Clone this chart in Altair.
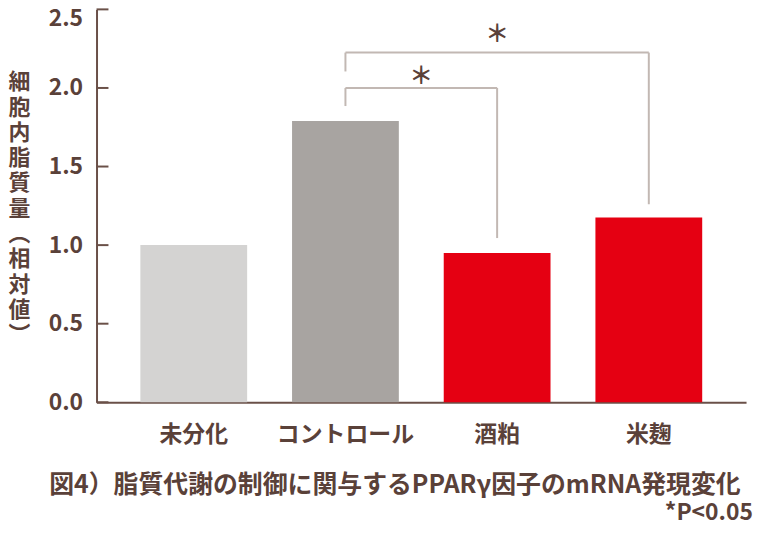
import altair as alt
import pandas as pd

# ---- data ----
categories = ["未分化", "コントロール", "酒粕", "米麹"]
values = [1.0, 1.79, 0.95, 1.175]
bar_colors = ["#d4d3d2", "#a8a4a1", "#e50012", "#e50012"]

y_ticks = [0.0, 0.5, 1.0, 1.5, 2.0, 2.5]

bracket_left = ["コントロール", "コントロール"]
bracket_right = ["酒粕", "米麹"]
bracket_top = [2.0, 2.225]
bracket_left_low = [1.885, 2.105]
bracket_right_low = [1.045, 1.26]
star_y = [2.07, 2.335]
star_at = ["コントロール", "酒粕"]
star_shift = [0.5, 0.0]  # in steps between bands

y_title = ["細", "胞", "内", "脂", "質", "量", "︵", "相", "対", "値", "︶"]
caption = "図4）脂質代謝の制御に関与するPPARγ因子のmRNA発現変化"
note = "*P<0.05"

# ---- styling ----
FONT = "Noto Sans CJK JP"
TXT = "#5a4139"
AXIS = "#6a5048"
BRK = "#c2b8b3"
W, H = 653, 395
P_IN, P_OUT = 0.296, 0.289
step = W / (len(categories) - P_IN + 2 * P_OUT)

xscale = alt.Scale(domain=categories, paddingInner=P_IN, paddingOuter=P_OUT)
yscale = alt.Scale(domain=[0, 2.5], nice=False, zero=True)

bars_df = pd.DataFrame({"cat": categories, "value": values})

bars = alt.Chart(bars_df).mark_bar().encode(
    x=alt.X("cat:N", scale=xscale, sort=categories,
            axis=alt.Axis(title=None, ticks=False, labelAngle=0, labelPadding=21,
                          labelFontSize=23, labelFontWeight="bold", labelColor=TXT,
                          labelFont=FONT, domainColor=AXIS, domainWidth=2)),
    y=alt.Y("value:Q", scale=yscale,
            axis=alt.Axis(values=y_ticks, format=".1f", ticks=False, grid=False,
                          labelFontSize=23, labelFontWeight="bold", labelColor=TXT,
                          labelFont=FONT, labelPadding=14,
                          labelOffset=alt.ExprRef("datum.value == 2.5 ? 9 : 0"),
                          domainColor=AXIS, domainWidth=2,
                          title=y_title, titleAngle=0, titleAlign="center",
                          titleBaseline="top", titleX=-78, titleY=63,
                          titleLineHeight=25.4, titleFontSize=22, titleLimit=0,
                          titleFontWeight="bold", titleColor=TXT, titleFont=FONT)),
    color=alt.Color("cat:N", scale=alt.Scale(domain=categories, range=bar_colors), legend=None),
)

tick_df = pd.DataFrame({"tick": y_ticks})
ticks = alt.Chart(tick_df).mark_rule(color=AXIS, strokeWidth=2).encode(
    x=alt.value(0), x2=alt.value(12), y=alt.Y("tick:Q", scale=yscale)
)

hor_df = pd.DataFrame({"cat": bracket_left, "cat2": bracket_right, "top": bracket_top})
hor = alt.Chart(hor_df).mark_rule(color=BRK, strokeWidth=2).encode(
    x=alt.X("cat:N", scale=xscale, sort=categories), x2="cat2:N",
    y=alt.Y("top:Q", scale=yscale),
)

vert_df = pd.DataFrame({
    "cat": bracket_left + bracket_right,
    "lo": bracket_left_low + bracket_right_low,
    "hi": bracket_top + bracket_top,
})
vert = alt.Chart(vert_df).mark_rule(color=BRK, strokeWidth=2).encode(
    x=alt.X("cat:N", scale=xscale, sort=categories),
    y=alt.Y("lo:Q", scale=yscale), y2="hi:Q",
)

star_layers = []
for cat, yv, sh in zip(star_at, star_y, star_shift):
    sdf = pd.DataFrame({"cat": [cat], "y": [yv], "t": ["＊"]})
    star_layers.append(
        alt.Chart(sdf).mark_text(font=FONT, fontSize=24, fontWeight="bold", color=TXT,
                                 baseline="middle", dx=sh * step).encode(
            x=alt.X("cat:N", scale=xscale, sort=categories),
            y=alt.Y("y:Q", scale=yscale), text="t:N")
    )

cap_df = pd.DataFrame({"t": [caption]})
cap = alt.Chart(cap_df).mark_text(font=FONT, fontSize=25, fontWeight="bold", color=TXT,
                                  align="center", baseline="middle").encode(
    x=alt.value(300), y=alt.value(478), text="t:N")

note_df = pd.DataFrame({"t": [note]})
nt = alt.Chart(note_df).mark_text(font=FONT, fontSize=23, fontWeight="bold", color=TXT,
                                  align="right", baseline="middle").encode(
    x=alt.value(660), y=alt.value(506), text="t:N")

chart = alt.layer(bars, ticks, hor, vert, *star_layers, cap, nt).properties(
    width=W, height=H,
    autosize=alt.AutoSizeParams(type="none"),
    padding={"left": 89, "top": 0, "right": 8, "bottom": 123},
).configure(font=FONT).configure_view(strokeWidth=0, stroke="transparent")

chart.save("out.html", embed_options={"renderer": "svg", "actions": False})
